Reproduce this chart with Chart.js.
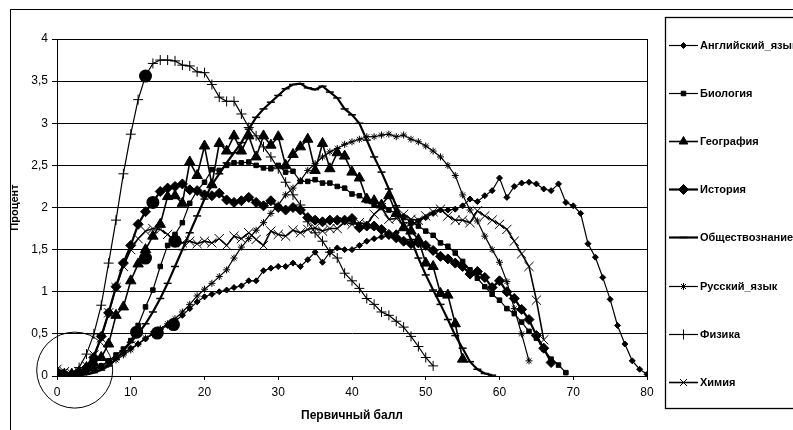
<!DOCTYPE html>
<html><head><meta charset="utf-8">
<script src="https://cdn.jsdelivr.net/npm/chart.js@4.4.0/dist/chart.umd.min.js"></script>
<style>html,body{margin:0;padding:0;background:#fff;}#wrap{width:793px;height:430px;}</style>
</head><body><div id="wrap"><canvas id="c" width="793" height="430"></canvas></div>
<script>
// ---- data (percent by primary score, score = array index) ----
const seriesNames = ['Английский_язык','Биология','География','История','Обществознание','Русский_язык','Физика','Химия'];

const english = [0.05,0.03,0.02,0.03,0.05,0.08,0.12,0.17,0.22,0.27,0.33,0.38,0.44,0.5,0.55,0.6,0.65,0.72,0.8,0.88,
  0.94,0.97,1.0,1.02,1.05,1.07,1.13,1.13,1.25,1.28,1.3,1.3,1.34,1.3,1.38,1.47,1.35,1.47,1.52,1.5,
  1.5,1.55,1.6,1.63,1.65,1.66,1.7,1.76,1.8,1.84,1.88,1.93,1.97,1.97,1.98,2.02,2.1,2.07,2.14,2.2,
  2.35,2.12,2.25,2.29,2.3,2.28,2.22,2.2,2.28,2.06,2.02,1.93,1.57,1.41,1.17,0.91,0.6,0.38,0.18,0.08,0.02];

const biology = [0.05,0.02,0.02,0.03,0.05,0.08,0.12,0.18,0.25,0.32,0.42,0.6,0.82,1.02,1.3,1.55,1.68,1.82,2.05,2.2,
  2.3,2.45,2.44,2.5,2.53,2.53,2.54,2.5,2.47,2.46,2.5,2.42,2.43,2.31,2.31,2.33,2.29,2.29,2.25,2.23,
  2.16,2.14,2.08,2.03,2.0,1.97,1.93,1.88,1.83,1.78,1.72,1.67,1.58,1.54,1.46,1.36,1.26,1.16,1.06,0.97,
  0.9,0.8,0.74,0.64,0.53,0.45,0.32,0.2,0.13,0.04];

const geography = [0.05,0.02,0.02,0.05,0.1,0.15,0.22,0.38,0.72,0.82,1.13,1.33,1.5,1.66,1.8,2.13,2.14,2.05,2.54,2.38,
  2.73,2.27,2.76,2.67,2.85,2.67,2.85,2.6,2.85,2.74,2.84,2.5,2.63,2.72,2.81,2.44,2.76,2.46,2.65,2.61,
  2.42,2.35,2.1,2.08,2.03,2.14,1.93,1.76,1.72,1.62,1.34,1.3,0.98,0.96,0.62,0.2];

const history = [0.05,0.02,0.02,0.05,0.1,0.22,0.47,0.75,1.06,1.34,1.55,1.8,1.95,2.06,2.19,2.23,2.25,2.28,2.21,2.2,
  2.15,2.14,2.17,2.09,2.06,2.08,2.12,2.06,2.02,2.08,2.0,1.97,2.0,1.97,1.88,1.85,1.83,1.85,1.85,1.85,
  1.87,1.76,1.78,1.78,1.74,1.68,1.64,1.6,1.57,1.58,1.55,1.49,1.42,1.39,1.34,1.3,1.21,1.24,1.17,1.05,
  1.13,1.0,0.92,0.79,0.67,0.48,0.33,0.16];

const social = [0.0,0.0,0.0,0.01,0.02,0.04,0.07,0.12,0.2,0.3,0.4,0.5,0.62,0.76,0.92,1.1,1.3,1.5,1.7,1.9,
  2.1,2.27,2.4,2.53,2.65,2.77,2.93,3.07,3.17,3.25,3.33,3.41,3.46,3.47,3.42,3.4,3.44,3.37,3.3,3.17,
  3.1,3.0,2.8,2.6,2.42,2.22,2.02,1.82,1.62,1.4,1.2,1.02,0.85,0.67,0.48,0.33,0.17,0.08,0.03,0.01];

const russian = [0.07,0.05,0.03,0.03,0.05,0.07,0.1,0.14,0.19,0.25,0.31,0.38,0.45,0.5,0.56,0.62,0.68,0.76,0.85,0.95,
  1.03,1.1,1.18,1.26,1.4,1.53,1.63,1.73,1.82,1.93,2.03,2.15,2.23,2.32,2.44,2.52,2.6,2.66,2.7,2.75,
  2.78,2.81,2.84,2.84,2.86,2.87,2.84,2.86,2.81,2.78,2.73,2.67,2.6,2.5,2.38,2.15,1.97,1.84,1.66,1.5,
  1.35,1.12,0.8,0.5,0.18];

const physics = [0.05,0.03,0.03,0.1,0.26,0.5,0.84,1.34,1.85,2.4,2.87,3.28,3.56,3.71,3.75,3.75,3.74,3.69,3.68,3.61,
  3.6,3.46,3.31,3.26,3.26,3.11,2.95,2.85,2.72,2.6,2.46,2.3,2.15,2.03,1.83,1.7,1.6,1.47,1.4,1.22,
  1.13,1.04,0.92,0.85,0.76,0.72,0.65,0.58,0.47,0.35,0.22,0.12];

const chemistry = [0.08,0.05,0.03,0.05,0.12,0.25,0.45,0.75,1.05,1.3,1.5,1.63,1.72,1.75,1.74,1.68,1.6,1.58,1.6,1.57,
  1.6,1.58,1.63,1.55,1.66,1.63,1.7,1.62,1.55,1.72,1.68,1.66,1.73,1.7,1.74,1.76,1.72,1.75,1.75,1.83,
  1.8,1.82,1.8,1.92,2.0,1.86,1.87,1.92,1.86,1.85,1.9,1.95,1.98,1.9,1.85,1.85,1.82,1.96,1.9,1.85,
  1.8,1.74,1.6,1.45,1.3,0.9,0.43];

// highlighted points drawn on the original figure
const highlightX = [12, 13, 12, 16, 10.8, 13.6, 15.8];
const highlightY = [3.56, 2.06, 1.4, 1.6, 0.52, 0.51, 0.61];
// open ring around the origin
const ringX = [2.4];
const ringY = [0.07];

const xTickValues = [0,10,20,30,40,50,60,70,80];
const yTickValues = [0,0.5,1,1.5,2,2.5,3,3.5,4];

// ---- styles ----
const seriesValues = [english, biology, geography, history, social, russian, physics, chemistry];
const styles = [
  {pointStyle:'rectRot', radius:3, lw:1.2, pbw:1},
  {pointStyle:'rect', radius:3.2, lw:1.2, pbw:1},
  {pointStyle:'triangle', radius:6, lw:1.6, pbw:1},
  {pointStyle:'rectRot', radius:5, lw:2.2, pbw:1},
  {pointStyle:'line', radius:4, lw:2.2, pbw:1.5},
  {pointStyle:'star', radius:3.5, lw:1.2, pbw:1},
  {pointStyle:'cross', radius:5, lw:1.2, pbw:1},
  {pointStyle:'crossRot', radius:6.5, lw:1.6, pbw:1}
];

const datasets = seriesValues.map((arr, i) => ({
  label: seriesNames[i],
  data: arr.map((v, k) => ({x: k, y: v})),
  borderColor: '#000',
  backgroundColor: '#000',
  borderWidth: styles[i].lw,
  pointStyle: styles[i].pointStyle,
  pointRadius: styles[i].radius,
  pointBorderWidth: styles[i].pbw,
  pointBackgroundColor: '#000',
  pointBorderColor: '#000',
  tension: 0,
  order: -i
}));
datasets.push({
  label: '_hl',
  data: highlightX.map((x, k) => ({x: x, y: highlightY[k]})),
  showLine: false,
  pointStyle: 'circle',
  pointRadius: 6.5,
  pointBackgroundColor: '#000',
  pointBorderColor: '#000',
  pointBorderWidth: 0,
  order: -100,
  clip: false
});
datasets.push({
  label: '_ring',
  data: ringX.map((x, k) => ({x: x, y: ringY[k]})),
  showLine: false,
  pointStyle: 'circle',
  pointRadius: 38,
  pointBackgroundColor: 'rgba(0,0,0,0)',
  pointBorderColor: '#000',
  pointBorderWidth: 1,
  order: -101,
  clip: false
});

const FONT = '"Liberation Sans", Arial, sans-serif';

const framePlugin = {
  id: 'frames',
  beforeDraw(chart) {
    const ctx = chart.ctx;
    ctx.save();
    ctx.fillStyle = '#fff';
    ctx.fillRect(0, 0, chart.width, chart.height);
    ctx.restore();
  },
  beforeDatasetsDraw(chart) {
    const ctx = chart.ctx, a = chart.chartArea;
    ctx.save();
    ctx.strokeStyle = '#000';
    ctx.lineWidth = 1;
    ctx.strokeRect(Math.round(a.left) + 0.5, Math.round(a.top) + 0.5, Math.round(a.right - a.left), Math.round(a.bottom - a.top));
    ctx.restore();
  },
  afterDraw(chart) {
    const ctx = chart.ctx;
    ctx.save();
    ctx.strokeStyle = '#000';
    ctx.lineWidth = 1;
    // outer chart frame
    ctx.strokeRect(10.5, 9.5, 900, 600);
    // legend box
    ctx.lineWidth = 1.3;
    ctx.strokeRect(665.5, 17.5, 400, 391);
    ctx.lineWidth = 1;
    ctx.font = 'bold 11px ' + FONT;
    ctx.textBaseline = 'middle';
    ctx.textAlign = 'left';
    seriesNames.forEach((name, i) => {
      const y = Math.round(44.5 + 48.2 * i) + 0.5;
      const st = styles[i];
      ctx.strokeStyle = '#000';
      ctx.fillStyle = '#000';
      ctx.lineWidth = st.lw;
      ctx.beginPath();
      ctx.moveTo(669, y);
      ctx.lineTo(698, y);
      ctx.stroke();
      ctx.lineWidth = st.pbw;
      Chart.helpers.drawPoint(ctx, {pointStyle: st.pointStyle, radius: Math.min(st.radius, 5), rotation: 0, borderWidth: st.pbw}, 683.5, y);
      ctx.fillStyle = '#000';
      ctx.fillText(name, 700, y);
    });
    ctx.restore();
  }
};

new Chart(document.getElementById('c'), {
  type: 'line',
  data: {datasets},
  options: {
    responsive: false,
    animation: false,
    devicePixelRatio: 1,
    events: [],
    layout: {padding: {left: 0, top: 25, right: 146, bottom: 0}},
    plugins: {legend: {display: false}, tooltip: {enabled: false}},
    scales: {
      x: {
        type: 'linear',
        min: 0, max: 80,
        afterFit(s) { s.height = 54; },
        afterBuildTicks(s) { s.ticks = xTickValues.map(v => ({value: v})); },
        grid: {drawOnChartArea: false, drawTicks: true, tickLength: 4, color: '#000', lineWidth: 1},
        border: {display: true, color: '#000', width: 1},
        ticks: {color: '#000', font: {size: 12, family: FONT}, padding: 5, maxRotation: 0,
          callback: v => String(v)},
        title: {display: true, text: 'Первичный балл', color: '#000',
          font: {size: 12, weight: 'bold', family: FONT}, padding: {top: 0, bottom: 7}}
      },
      y: {
        min: 0, max: 4,
        afterFit(s) { s.width = 57; },
        afterBuildTicks(s) { s.ticks = yTickValues.map(v => ({value: v})); },
        grid: {color: '#000', lineWidth: 1, drawTicks: true, tickLength: 5},
        border: {display: true, color: '#000', width: 1},
        ticks: {color: '#000', font: {size: 12, family: FONT}, padding: 4,
          callback: v => String(v).replace('.', ',')},
        title: {display: true, text: 'Процент', color: '#000',
          font: {size: 11, weight: 'bold', family: FONT}, padding: {top: 8, bottom: 0}}
      }
    }
  },
  plugins: [framePlugin]
});
</script>
</body></html>
